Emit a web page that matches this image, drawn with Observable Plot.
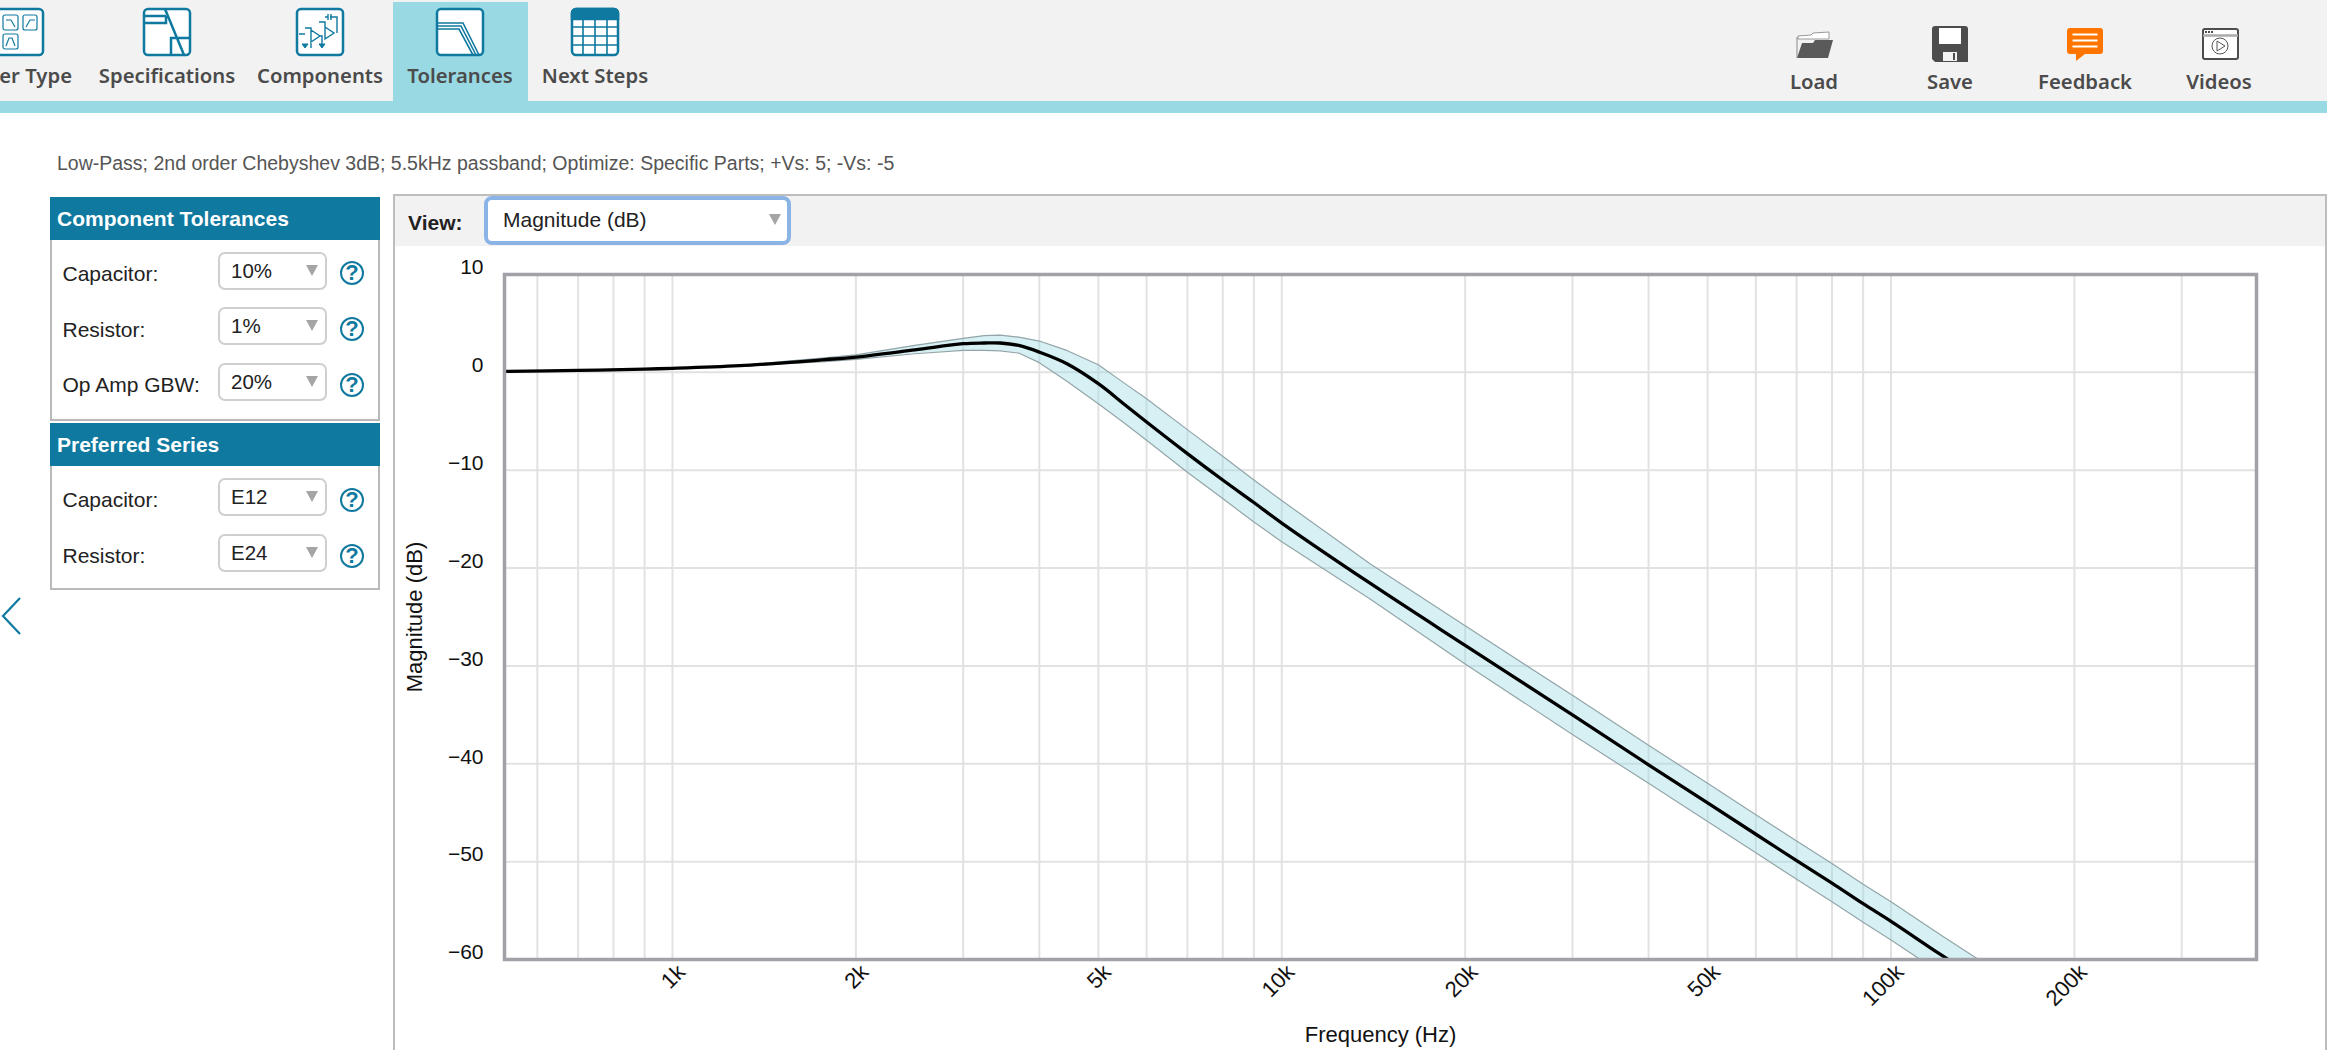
<!DOCTYPE html>
<html>
<head>
<meta charset="utf-8">
<script src="https://cdn.jsdelivr.net/npm/d3@7"></script>
<script src="https://cdn.jsdelivr.net/npm/@observablehq/plot@0.6"></script>
<style>
html,body{margin:0;padding:0;width:2327px;height:1050px;overflow:hidden;background:#fff;font-family:"Liberation Sans",Arial,sans-serif;color:#222}
.abs{position:absolute;white-space:nowrap}
#toolbar{left:0;top:0;width:2327px;height:101px;background:#f2f2f2}
#strip{left:0;top:101px;width:2327px;height:12px;background:#99d9e3}
#active{left:393px;top:2px;width:135px;height:99px;background:#99d9e3}
.tb{font-family:"Noto Sans",sans-serif;font-weight:600;font-size:20.3px;color:#4b4b4b;transform:translate(-50%,-50%)}
#subtitle{left:57px;top:152px;font-size:19.5px;line-height:23px;color:#555}
.box{box-sizing:border-box;left:50px;width:330px;border:2px solid #b9b9b9;background:#fff}
.head{box-sizing:border-box;left:50px;width:330px;height:43px;background:#0f79a0;color:#fff;font-weight:700;font-size:21px;line-height:43px;padding-left:7px}
.lab{left:62.5px;font-size:21px;line-height:24px;color:#222;transform:translateY(-50%)}
.sel{box-sizing:border-box;left:218px;width:109px;height:38px;border:2px solid #cfcfcf;border-radius:7px;background:#fff;font-size:20.5px;line-height:34px;padding-left:11px;color:#222}
.sel:after{content:"";position:absolute;left:86px;top:11px;border-left:6px solid transparent;border-right:6px solid transparent;border-top:11px solid #a5a5a5}
.help{box-sizing:border-box;left:340px;width:24px;height:24px;border:2px solid #0f79a0;border-radius:50%;color:#0f79a0;font-weight:700;font-size:22px;line-height:20px;text-align:center}
#panel{box-sizing:border-box;left:393px;top:194px;width:1934px;height:860px;border:2px solid #bdbdbd;border-bottom:0;background:#fff}
#phead{left:395px;top:196px;width:1930px;height:50px;background:#f2f2f2}
#viewlab{left:408px;top:210px;font-weight:700;font-size:21px;line-height:26px;color:#222}
#viewsel{box-sizing:border-box;left:484px;top:196px;width:307px;height:49px;border:4px solid #8ab3e6;border-radius:8px;background:#fff;font-size:21px;line-height:40px;padding-left:15px;color:#222}
#viewsel:after{content:"";position:absolute;left:281px;top:14px;border-left:6.5px solid transparent;border-right:6.5px solid transparent;border-top:11px solid #a5a5a5}
#plot{left:395px;top:246px}
#plot svg{display:block;overflow:visible;font-family:"Liberation Sans",Arial,sans-serif}
</style>
</head>
<body>
<div class="abs" id="toolbar"></div>
<div class="abs" id="active"></div>
<div class="abs" id="strip"></div>

<svg class="abs" style="left:0;top:0" width="2327" height="113" fill="none" stroke="#0f79a0" stroke-width="2.5">
  <rect x="-6" y="9" width="49" height="46" rx="4" fill="#fff"/>
  <g stroke-width="1.2"><rect x="3" y="15" width="15" height="15" rx="2"/><rect x="23" y="15" width="14" height="15" rx="2"/><rect x="3" y="34" width="15" height="15" rx="2"/>
  <path d="M6 20h5l4 7M26 27l4-7h5M6 46l3-8h3l3 8"/></g>
  <rect x="144" y="9" width="46" height="46" rx="4" fill="#fff"/>
  <path d="M145 16h21M145 23h21v-7M165 9l19 46M171 55V38h19"/>
  <rect x="297" y="9" width="46" height="46" rx="4" fill="#fff"/>
  <g stroke-width="1.4"><path d="M311 30l9 6-9 6zM325 27l9 6-9 6zM305 28h6v20M319 22h6v5M305 34h-6M330 17h7v16M320 36h2v10M325 17h3M331 14v6M328 14v6"/></g>
  <path d="M302 44l3 4 3-4zM319 44l3 4 3-4z" fill="#0f79a0" stroke-width="1"/>
  <rect x="437" y="9" width="46" height="46" rx="4" fill="#fff"/>
  <g stroke-width="1.6"><path d="M438 23h25l16 32M438 26h23l15 29M438 29h21l14 26"/></g>
  <rect x="572" y="9" width="46" height="46" rx="4" fill="#fff"/>
  <path d="M572 19v-6a4 4 0 0 1 4-4h38a4 4 0 0 1 4 4v6z" fill="#0f79a0"/>
  <g stroke-width="1.6"><path d="M572 27h46M572 36h46M572 45h46M583 19v36M595 19v36M607 19v36"/></g>
  <g stroke="none">
    <path d="M1798 36l13-1 2-2 16-1v7h-31z" fill="#fff" stroke="#999" stroke-width="1"/>
    <path d="M1797 58l5-15h11l2-3h18l-5 18z" fill="#5a5a5a"/>
    <path d="M1797 58V37" stroke="#888" stroke-width="1"/>
    <path d="M1935 26h30a3 3 0 0 1 3 3v33h-33l-3-3V29a3 3 0 0 1 3-3z" fill="#4d4d4d"/>
    <rect x="1939" y="28" width="22" height="16" fill="#fff"/>
    <rect x="1943" y="52" width="14" height="9" fill="#f2f2f2"/><rect x="1953" y="53" width="2" height="7" fill="#4d4d4d"/>
    <path d="M2070 28h30a3 3 0 0 1 3 3v20a3 3 0 0 1-3 3h-15l-9 7v-7h-6a3 3 0 0 1-3-3V31a3 3 0 0 1 3-3z" fill="#ff7500"/>
    <path d="M2072.5 33.500h25v2h-25zM2072.5 39.500h25v2h-25zM2072.500 45.500h25v2h-25z" fill="#fff"/>
  </g>
  <g stroke="#4d4d4d" stroke-width="2"><rect x="2203" y="29" width="35" height="30" rx="2" fill="#fff"/><path d="M2203 35.500h35" stroke="#aaa" stroke-width="2.5"/></g>
  <g fill="#4d4d4d" stroke="none"><rect x="2205" y="31" width="2" height="2"/><rect x="2208" y="31" width="2" height="2"/><rect x="2211" y="31" width="2" height="2"/></g>
  <g stroke="#555" stroke-width="1"><circle cx="2220" cy="46" r="8"/><path d="M2217 41l8 5-8 5z"/></g>
</svg>

<div class="abs tb" style="left:auto;right:calc(100% - 72px);top:75px;transform:translateY(-50%)">Filter Type</div>
<div class="abs tb" style="left:167px;top:75px">Specifications</div>
<div class="abs tb" style="left:320px;top:75px">Components</div>
<div class="abs tb" style="left:460px;top:75px">Tolerances</div>
<div class="abs tb" style="left:595px;top:75px">Next Steps</div>
<div class="abs tb" style="left:1814px;top:81px">Load</div>
<div class="abs tb" style="left:1950px;top:81px">Save</div>
<div class="abs tb" style="left:2085px;top:81px">Feedback</div>
<div class="abs tb" style="left:2219px;top:81px">Videos</div>

<div class="abs" id="subtitle">Low-Pass; 2nd order Chebyshev 3dB; 5.5kHz passband; Optimize: Specific Parts; +Vs: 5; -Vs: -5</div>

<div class="abs box" style="top:197px;height:224px"></div>
<div class="abs head" style="top:197px">Component Tolerances</div>
<div class="abs lab" style="top:274px">Capacitor:</div>
<div class="abs sel" style="top:252px">10%</div>
<div class="abs help" style="top:261px">?</div>
<div class="abs lab" style="top:330px">Resistor:</div>
<div class="abs sel" style="top:307px">1%</div>
<div class="abs help" style="top:317px">?</div>
<div class="abs lab" style="top:385px">Op Amp GBW:</div>
<div class="abs sel" style="top:363px">20%</div>
<div class="abs help" style="top:373px">?</div>

<div class="abs box" style="top:423px;height:167px"></div>
<div class="abs head" style="top:423px">Preferred Series</div>
<div class="abs lab" style="top:500px">Capacitor:</div>
<div class="abs sel" style="top:478px">E12</div>
<div class="abs help" style="top:488px">?</div>
<div class="abs lab" style="top:556px">Resistor:</div>
<div class="abs sel" style="top:534px">E24</div>
<div class="abs help" style="top:544px">?</div>

<svg class="abs" style="left:0;top:590px" width="24" height="50" fill="none" stroke="#0f79a0" stroke-width="2.2"><path d="M20 8L3 26l17 18"/></svg>

<div class="abs" id="panel"></div>
<div class="abs" id="phead"></div>
<div class="abs" id="viewlab">View:</div>
<div class="abs" id="viewsel">Magnitude (dB)</div>
<div class="abs" id="plot"></div>

<script>
const freq  = [530, 700, 900, 1000, 1290, 1780, 2000, 2500, 3000, 3250, 3450, 3700, 4000, 4440, 5000, 5500, 6000, 7000, 8000, 9000, 10000, 14000, 20000, 30000, 40000, 50000, 60000, 70000, 80000, 90000, 100000, 120000, 140000];
const mid   = [0.1, 0.2, 0.34, 0.41, 0.68, 1.3, 1.56, 2.3, 2.93, 3.0, 3.0, 2.75, 2.07, 0.88, -1.16, -3.2, -5.07, -8.3, -11.0, -13.3, -15.4, -21.6, -27.9, -35.0, -40.1, -44.0, -47.2, -49.9, -52.2, -54.3, -56.1, -59.4, -62.1];
const upper = [0.12, 0.22, 0.36, 0.43, 0.72, 1.48, 1.78, 2.75, 3.47, 3.75, 3.8, 3.6, 3.2, 2.24, 0.78, -1.05, -2.7, -5.85, -8.57, -11.0, -13.1, -19.6, -25.9, -33.0, -38.1, -42.0, -45.2, -47.9, -50.2, -52.3, -54.1, -57.4, -60.1];
const lower = [0.08, 0.18, 0.32, 0.39, 0.64, 1.1, 1.33, 1.9, 2.24, 2.24, 2.2, 1.97, 0.99, -0.92, -3.2, -5.13, -6.94, -10.2, -12.9, -15.3, -17.3, -23.2, -29.8, -37.0, -42.0, -45.9, -49.1, -51.8, -54.1, -56.2, -58.0, -61.3, -64.0];

const xLabels = [1000, 2000, 5000, 10000, 20000, 50000, 100000, 200000];
const xGrid = [600, 700, 800, 900, 1000, 2000, 3000, 4000, 5000, 6000, 7000, 8000, 9000, 10000, 20000, 30000, 40000, 50000, 60000, 70000, 80000, 90000, 100000, 200000, 300000];
const yTicks = [10, 0, -10, -20, -30, -40, -50, -60];

const rows = freq.map((f, i) => ({f, mid: mid[i], upper: upper[i], lower: lower[i]}));

const chart = Plot.plot({
  width: 1930,
  height: 804,
  marginLeft: 109,
  marginRight: 69,
  marginTop: 28,
  marginBottom: 91,
  style: {fontSize: "20px", fontFamily: "Liberation Sans, Arial, sans-serif", background: "transparent", color: "#111"},
  x: {type: "log", domain: [530, 398000]},
  y: {domain: [-60, 10]},
  marks: [
    Plot.ruleX(xGrid, {stroke: "#e2e2e2", strokeWidth: 2, strokeOpacity: 1}),
    Plot.ruleY(yTicks, {stroke: "#e2e2e2", strokeWidth: 2, strokeOpacity: 1}),
    Plot.areaY(rows, {x: "f", y1: "lower", y2: "upper", fill: "#99dae4", fillOpacity: 0.4, clip: true}),
    Plot.line(rows, {x: "f", y: "upper", stroke: "#93a5a8", strokeWidth: 1.2, clip: true}),
    Plot.line(rows, {x: "f", y: "lower", stroke: "#93a5a8", strokeWidth: 1.2, clip: true}),
    Plot.line(rows, {x: "f", y: "mid", stroke: "#000", strokeWidth: 3.3, curve: "catmull-rom", clip: true}),
    Plot.frame({stroke: "#a1a1a8", strokeWidth: 3.5}),
    Plot.axisY(yTicks, {anchor: "left", tickSize: 0, tickPadding: 21, dy: -7, fontSize: 21, label: null}),
    Plot.axisY([], {
      anchor: "left", tickSize: 0, fontSize: 22,
      label: "Magnitude (dB)", labelAnchor: "center", labelArrow: "none", labelOffset: 98
    }),
    Plot.axisX(xLabels, {
      anchor: "bottom", tickSize: 0, tickRotate: -45, tickPadding: 9, dx: 9, fontSize: 22,
      tickFormat: d => d / 1000 + "k", label: null
    }),
    Plot.axisX([], {
      anchor: "bottom", tickSize: 0, fontSize: 22,
      label: "Frequency (Hz)", labelAnchor: "center", labelArrow: "none", labelOffset: 82
    })
  ]
});
document.getElementById("plot").appendChild(chart);
</script>
</body>
</html>
